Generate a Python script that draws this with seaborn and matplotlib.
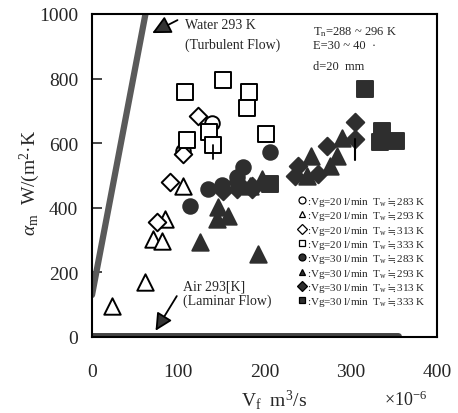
import matplotlib
matplotlib.use("Agg")
import matplotlib.pyplot as plt
import seaborn as sns
import pandas as pd
from matplotlib.lines import Line2D

# --- data (Vf x1e-6 m3/s, alpha_m W/(m2 K)) ---
o20_283_v = [139, 106]
o20_283_a = [664, 576]
o20_293_v = [106, 85, 71, 81, 61, 23]
o20_293_a = [467, 365, 303, 297, 170, 96]
o20_313_v = [123, 106, 90, 75]
o20_313_a = [683, 566, 479, 355]
o20_333_v = [108, 152, 182, 180, 110, 136, 140, 202]
o20_333_a = [757, 797, 760, 708, 609, 634, 594, 628]

f30_283_v = [206, 114, 175, 134, 151, 168]
f30_283_a = [572, 405, 525, 457, 470, 494]
f30_293_v = [146, 145, 158, 125, 192, 197, 183, 254, 290, 284, 249, 276]
f30_293_a = [402, 365, 375, 293, 257, 488, 467, 560, 615, 560, 498, 529]
f30_313_v = [152, 168, 186, 239, 235, 272, 305, 305, 262, 186, 168]
f30_313_a = [451, 457, 457, 529, 498, 590, 665, 612, 504, 467, 479]
f30_333_v = [317, 336, 334, 353, 206]
f30_333_a = [767, 637, 603, 606, 473]

water_v = [0, 62]
water_a = [130, 1000]
air_v = [0, 355]
air_a = [3, 3]

tw = "T$_\\mathregular{w}\\fallingdotseq$"
series = [
    (f":Vg=20 l/min  {tw}283 K", o20_283_v, o20_283_a, "o", False),
    (f":Vg=20 l/min  {tw}293 K", o20_293_v, o20_293_a, "^", False),
    (f":Vg=20 l/min  {tw}313 K", o20_313_v, o20_313_a, "D", False),
    (f":Vg=20 l/min  {tw}333 K", o20_333_v, o20_333_a, "s", False),
    (f":Vg=30 l/min  {tw}283 K", f30_283_v, f30_283_a, "o", True),
    (f":Vg=30 l/min  {tw}293 K", f30_293_v, f30_293_a, "^", True),
    (f":Vg=30 l/min  {tw}313 K", f30_313_v, f30_313_a, "D", True),
    (f":Vg=30 l/min  {tw}333 K", f30_333_v, f30_333_a, "s", True),
]

sns.set_style("ticks")
plt.rcParams["font.family"] = ["Liberation Serif", "DejaVu Serif"]
plt.rcParams["mathtext.fontset"] = "custom"
plt.rcParams["mathtext.rm"] = "Liberation Serif"
plt.rcParams["mathtext.it"] = "Liberation Serif:italic"
plt.rcParams["mathtext.fallback"] = "stix"

fig = plt.figure(figsize=(4.58, 4.14), dpi=100)
ax = fig.add_axes([0.2009, 0.1836, 0.7531, 0.7802])

dark = "#2e2e2e"
sns.lineplot(x=water_v, y=water_a, ax=ax, color="#5a5a5a", lw=4.5, zorder=2)
sns.lineplot(x=air_v, y=air_a, ax=ax, color="#444444", lw=5, zorder=2,
             solid_capstyle="round")

sizes = {"o": 110, "^": 140, "D": 80, "s": 140}
handles = []
for label, xs, ys, m, filled in series:
    df = pd.DataFrame({"v": xs, "a": ys})
    fc = dark if filled else "white"
    sns.scatterplot(data=df, x="v", y="a", ax=ax, marker=m, s=sizes[m],
                    facecolor=fc, edgecolor="black" if not filled else dark,
                    linewidth=1.4, zorder=3)
    handles.append(Line2D([], [], ls="", marker=m, markersize=5,
                          markerfacecolor=fc, markeredgecolor="black",
                          markeredgewidth=0.9, label=label))

# small error bars seen in reference
ax.plot([140, 140], [594, 550], color="black", lw=1.3, zorder=4)
ax.plot([305, 305], [612, 548], color="black", lw=1.5, zorder=4)

ax.set_xlim(0, 400)
ax.set_ylim(0, 1000)
ax.set_xticks([0, 100, 200, 300, 400])
ax.set_yticks([0, 200, 400, 600, 800, 1000])
ax.tick_params(axis="y", direction="in", length=7, width=1.2, pad=10, labelsize=14)
ax.tick_params(axis="x", length=0, pad=19, labelsize=14)
for sp in ax.spines.values():
    sp.set_visible(True)
    sp.set_linewidth(1.5)
    sp.set_color("black")

ax.set_xlabel("V$_\\mathregular{f}$  m$^\\mathregular{3}$/s", fontsize=14, va="center")
ax.xaxis.set_label_coords(0.527, -0.193)
ax.set_ylabel("$\\alpha_\\mathregular{m}$  W/(m$^\\mathregular{2}$·K", fontsize=14, va="center")
ax.yaxis.set_label_coords(-0.18, 0.48)
fig.text(0.886, 0.032, "×10$^\\mathregular{-6}$", fontsize=13, ha="center", va="center")

ax.annotate("", xy=(67, 937), xytext=(102, 985),
            arrowprops=dict(arrowstyle="-|>", mutation_scale=28, lw=1.3,
                            color="black", fc="#333333"), zorder=5)
ax.text(108, 967, "Water 293 K", fontsize=10, va="center")
ax.text(108, 905, "(Turbulent Flow)", fontsize=10, va="center")

ax.annotate("", xy=(72, 12), xytext=(100, 134),
            arrowprops=dict(arrowstyle="-|>", mutation_scale=26, lw=1.3,
                            color="black", fc="#333333"), zorder=5)
ax.text(106, 157, "Air 293[K]", fontsize=10, va="center")
ax.text(106, 114, "(Laminar Flow)", fontsize=10, va="center")

ax.text(256, 948, "T$_\\mathregular{n}$=288 ~ 296 K", fontsize=9, va="center")
ax.text(256, 905, "E=30 ~ 40  ·", fontsize=9, va="center")
ax.text(256, 838, "d=20  mm", fontsize=9, va="center")

ax.legend(handles=handles, loc="upper left", bbox_to_anchor=(0.6, 0.44),
          frameon=False, fontsize=8, handlelength=0.6, handletextpad=0.1,
          labelspacing=0.12, borderaxespad=0.0, borderpad=0.0)

fig.savefig("out.png", dpi=100)
